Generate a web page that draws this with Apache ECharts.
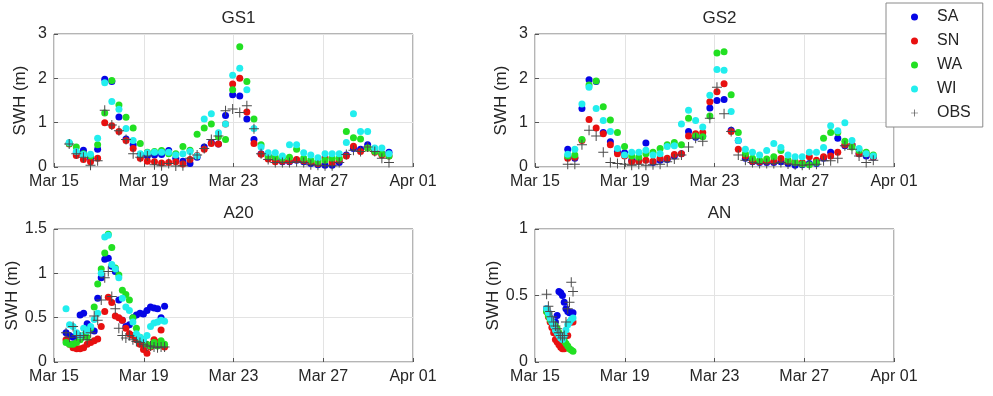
<!DOCTYPE html>
<html>
<head>
<meta charset="utf-8">
<script src="https://cdn.jsdelivr.net/npm/echarts@6/dist/echarts.min.js"></script>
<style>
  html, body { margin: 0; padding: 0; background: #fff; }
  #container { width: 993px; height: 396px; }
</style>
</head>
<body>
<div id="container"></div>
<script>
// station names, model names, tick layout
var stations = ['GS1', 'GS2', 'A20', 'AN'];
var models = ['SA', 'SN', 'WA', 'WI', 'OBS'];
var monthNames = ['Jan', 'Feb', 'Mar', 'Apr', 'May', 'Jun', 'Jul', 'Aug', 'Sep', 'Oct', 'Nov', 'Dec'];
var yMax = [3, 3, 1.5, 1];
var yStep = [1, 1, 0.5, 0.5];

// sampling of each record, in days after Mar 15 00:00
var gs1Start = 0.72, gs1Step = 0.3365;
var gs2Start = 1.55, gs2Step = 0.3365;
var a20Start = 0.57, a20Step = 1 / 6;
var anStart = 0.55, anStep = 1 / 12;

// GS1 significant wave height (m)
var gs1SA  = [0.53,0.32,0.38,0.20,0.40,1.98,1.93,1.13,0.63,0.50,0.28,0.25,0.27,0.28,0.37,0.20,0.13,0.08,0.22,0.45,0.55,0.52,1.16,1.63,1.60,1.08,0.62,0.30,0.25,0.15,0.12,0.12,0.15,0.12,0.08,0.05,0.04,0.04,0.10,0.27,0.42,0.40,0.50,0.38,0.30,0.33];
var gs1SN  = [0.52,0.26,0.17,0.12,0.20,1.00,0.93,0.80,0.60,0.42,0.20,0.13,0.12,0.09,0.10,0.12,0.07,0.17,0.26,0.40,0.53,0.52,0.97,1.87,2.00,1.24,0.53,0.29,0.18,0.12,0.13,0.13,0.17,0.14,0.12,0.08,0.21,0.10,0.15,0.25,0.47,0.35,0.43,0.33,0.27,0.25];
var gs1WA  = [0.53,0.45,0.30,0.25,0.50,1.22,1.95,1.40,1.12,0.88,0.53,0.33,0.35,0.37,0.30,0.30,0.46,0.38,0.74,0.88,0.97,0.68,0.62,1.74,2.71,1.93,1.08,0.50,0.25,0.22,0.20,0.22,0.40,0.20,0.15,0.12,0.15,0.20,0.20,0.80,0.66,0.63,0.43,0.35,0.30,0.25];
var gs1WI  = [0.55,0.35,0.28,0.29,0.65,1.90,1.48,1.30,0.87,0.60,0.30,0.32,0.33,0.33,0.33,0.27,0.30,0.35,0.25,1.08,1.20,0.77,0.97,2.07,2.23,1.74,0.87,0.45,0.32,0.32,0.25,0.50,0.50,0.32,0.27,0.21,0.30,0.30,0.30,0.55,1.20,0.80,0.80,0.43,0.43,0.30];
var gs1OBS = [0.52,0.30,0.22,0.04,0.14,1.28,0.95,0.82,0.62,0.30,0.22,0.25,0.05,0.03,0.08,0.02,0.03,0.20,0.27,0.42,0.62,0.70,1.27,1.31,1.23,1.38,0.86,0.30,0.17,0.10,0.10,0.10,0.12,0.10,0.05,0.04,0.03,0.03,0.10,0.28,0.38,0.35,0.45,0.35,0.20,0.10];

// GS2
var gs2SA  = [0.40,0.20,1.32,1.97,1.93,0.78,0.57,0.35,0.32,0.15,0.15,0.54,0.10,0.15,0.17,0.25,0.30,0.80,0.67,0.70,1.33,1.50,1.52,0.83,0.60,0.20,0.12,0.10,0.10,0.10,0.12,0.08,0.04,0.05,0.08,0.08,0.20,0.33,0.65,0.48,0.50,0.30,0.25,0.22];
var gs2SN  = [0.20,0.22,0.60,1.07,0.88,0.75,0.50,0.30,0.25,0.12,0.13,0.15,0.13,0.20,0.20,0.28,0.30,0.70,0.75,0.78,1.47,1.70,1.88,0.80,0.40,0.25,0.13,0.12,0.13,0.13,0.19,0.13,0.12,0.10,0.23,0.15,0.23,0.25,0.33,0.50,0.50,0.30,0.30,0.23];
var gs2WA  = [0.25,0.27,0.62,1.85,1.94,1.36,1.06,0.78,0.46,0.25,0.22,0.30,0.33,0.42,0.50,0.55,0.50,1.10,0.70,0.68,1.15,2.57,2.60,1.63,0.78,0.30,0.20,0.15,0.18,0.23,0.37,0.15,0.10,0.07,0.05,0.10,0.65,0.78,0.78,0.58,0.45,0.37,0.33,0.27];
var gs2WI  = [0.29,0.40,1.42,1.80,1.32,1.05,0.80,0.42,0.27,0.33,0.33,0.38,0.27,0.30,0.46,0.48,0.97,1.28,1.05,0.90,1.62,2.20,2.18,1.25,0.60,0.40,0.33,0.27,0.37,0.53,0.44,0.27,0.23,0.23,0.33,0.33,0.44,0.93,0.82,1.00,0.60,0.42,0.30,0.25];
var gs2OBS = [0.06,0.06,0.50,0.83,0.70,0.33,0.10,0.08,0.06,0.04,0.06,0.04,0.05,0.06,0.12,0.18,0.27,0.45,0.65,0.58,1.10,1.80,1.20,0.80,0.27,0.15,0.10,0.08,0.08,0.08,0.10,0.07,0.05,0.04,0.05,0.06,0.14,0.14,0.20,0.48,0.40,0.25,0.10,0.15];

// A20
var a20SA  = [0.33,0.30,0.28,0.30,0.53,0.55,0.43,0.36,0.35,0.72,0.95,1.16,1.17,1.08,1.02,0.70,0.47,0.40,0.42,0.50,0.53,0.55,0.54,0.58,0.62,0.61,0.60,0.50,0.63];
var a20SN  = [0.25,0.20,0.16,0.15,0.15,0.16,0.20,0.22,0.24,0.26,0.40,0.57,0.73,0.67,0.52,0.50,0.47,0.38,0.32,0.30,0.25,0.20,0.14,0.10,0.17,0.25,0.22,0.36,0.17];
var a20WA  = [0.22,0.20,0.20,0.22,0.25,0.30,0.28,0.38,0.62,0.88,1.05,1.23,1.44,1.29,1.06,0.98,0.81,0.76,0.70,0.50,0.38,0.28,0.25,0.20,0.18,0.22,0.18,0.24,0.20];
var a20WI  = [0.60,0.42,0.40,0.33,0.30,0.38,0.35,0.40,0.48,0.55,1.00,1.41,1.43,1.10,1.05,0.95,0.72,0.62,0.58,0.45,0.32,0.28,0.25,0.30,0.40,0.44,0.45,0.47,0.46];
var a20OBS = [0.33,0.28,0.40,0.30,0.28,0.30,0.25,0.33,0.52,0.47,0.70,0.95,1.02,0.74,0.60,0.38,0.30,0.27,0.30,0.25,0.23,0.22,0.20,0.18,0.18,0.17,0.16,0.17,0.17];

// AN
var anSA  = [0.40,0.37,0.33,0.30,0.28,0.30,0.35,0.53,0.52,0.50,0.45,0.40,0.38,0.37,0.37,0.37];
var anSN  = [0.38,0.34,0.30,0.26,0.22,0.17,0.15,0.13,0.11,0.10,0.10,0.12,0.20,0.30,0.30,0.30];
var anWA  = [0.38,0.35,0.32,0.30,0.28,0.27,0.25,0.22,0.20,0.18,0.16,0.14,0.12,0.10,0.09,0.08];
var anWI  = [0.40,0.37,0.33,0.30,0.27,0.24,0.22,0.20,0.18,0.17,0.20,0.24,0.28,0.30,0.32,0.33];
var anOBS = [0.51,0.42,0.38,0.34,0.30,0.27,0.25,0.22,0.20,0.18,0.20,0.30,0.40,0.45,0.60,0.53];

var values = [
  [gs1SA, gs1SN, gs1WA, gs1WI, gs1OBS],
  [gs2SA, gs2SN, gs2WA, gs2WI, gs2OBS],
  [a20SA, a20SN, a20WA, a20WI, a20OBS],
  [anSA, anSN, anWA, anWI, anOBS]
];
var starts = [gs1Start, gs2Start, a20Start, anStart];
var steps = [gs1Step, gs2Step, a20Step, anStep];

var font = 'Liberation Sans, Arial, sans-serif';
var colors = ['#0505e6', '#e81010', '#22e022', '#22eeee', '#4a4a4a'];
var plus = 'path://M0,4.5L10,4.5L10,5.5L0,5.5Z M4.5,0L5.5,0L5.5,10L4.5,10Z';
var boxes = [[54, 34], [535, 34], [54, 229], [535, 229]];

function dayLabel(v) {
    var d = new Date(Date.UTC(2015, 2, 15) + Math.round(v * 86400000));
    var dd = d.getUTCDate();
    return monthNames[d.getUTCMonth()] + ' ' + (dd < 10 ? '0' + dd : dd);
}

var dom = document.getElementById("container");
var myChart = echarts.init(dom, null, {renderer: 'canvas'});

var grids = [], xAxes = [], yAxes = [], titles = [], series = [];
for (var s = 0; s < stations.length; s++) {
    grids.push({
        left: boxes[s][0], top: boxes[s][1], width: 359, height: 133,
        show: true, borderColor: '#6a6a6a', borderWidth: 1, backgroundColor: '#fff'
    });
    titles.push({
        text: stations[s], left: boxes[s][0] + 179.5, top: boxes[s][1] - 29, textAlign: 'center',
        textStyle: {fontFamily: font, fontSize: 17, fontWeight: 'normal', color: '#262626'}
    });
    xAxes.push({
        gridIndex: s, type: 'value', min: 0, max: 17, interval: 4.25,
        axisLine: {show: false},
        axisTick: {show: true, inside: true, length: 4, lineStyle: {color: '#555'}},
        splitLine: {show: true, lineStyle: {color: '#e3e3e3'}},
        axisLabel: {formatter: dayLabel, fontFamily: font, fontSize: 16, color: '#262626', margin: 7}
    });
    yAxes.push({
        gridIndex: s, type: 'value', min: 0, max: yMax[s], interval: yStep[s],
        name: 'SWH (m)', nameLocation: 'middle', nameGap: 25,
        nameTextStyle: {fontFamily: font, fontSize: 17, color: '#262626'},
        axisLine: {show: false},
        axisTick: {show: true, inside: true, length: 4, lineStyle: {color: '#555'}},
        splitLine: {show: true, lineStyle: {color: '#e3e3e3'}},
        axisLabel: {fontFamily: font, fontSize: 16, color: '#262626', margin: 7}
    });
    for (var m = 0; m < models.length; m++) {
        var vals = values[s][m];
        var pts = [];
        for (var k = 0; k < vals.length; k++) {
            pts.push([starts[s] + k * steps[s], vals[k]]);
        }
        series.push({
            type: 'scatter', name: models[m],
            xAxisIndex: s, yAxisIndex: s,
            symbol: m === 4 ? plus : 'circle',
            symbolSize: m === 4 ? 10 : 7,
            itemStyle: {color: colors[m], opacity: 1},
            data: pts
        });
    }
}

option = {
    animation: false,
    backgroundColor: '#fff',
    title: titles,
    legend: {
        orient: 'vertical', left: 886, top: 3,
        data: [
            {name: 'SA', icon: 'circle'},
            {name: 'SN', icon: 'circle'},
            {name: 'WA', icon: 'circle'},
            {name: 'WI', icon: 'circle'},
            {name: 'OBS', icon: plus}
        ],
        selectedMode: false,
        itemWidth: 7, itemHeight: 7, itemGap: 8,
        padding: [6, 12, 6, 25],
        backgroundColor: '#fff', borderColor: '#8a8a8a', borderWidth: 1,
        textStyle: {fontFamily: font, fontSize: 16, color: '#262626', padding: [0, 0, 0, 14]}
    },
    grid: grids,
    xAxis: xAxes,
    yAxis: yAxes,
    series: series
};
if (option && typeof option === "object") {
    myChart.setOption(option, true);
}
</script>
</body>
</html>
